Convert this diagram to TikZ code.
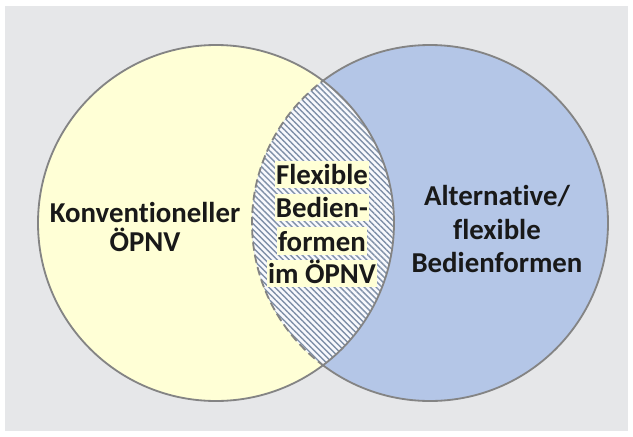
\documentclass[tikz,border=0pt]{standalone}
\usepackage{fontspec}
\setmainfont{Carlito}[RawFeature={-liga;-clig;-calt;-dlig}]
\usetikzlibrary{patterns.meta}
\definecolor{bggray}{HTML}{E6E7E9}
\definecolor{konvyellow}{HTML}{FFFFD6}
\definecolor{flexblue}{HTML}{B4C6E7}
\definecolor{rimgray}{HTML}{848484}
\definecolor{hatchblue}{HTML}{7F90A8}
\tikzset{
  rim/.style={rimgray, line width=1.3pt},
  lbl/.style={align=center, text=black!90, font=\bfseries\fontsize{20.5}{24}\selectfont},
  flexline/.style={fill=konvyellow, inner xsep=1pt, inner ysep=0pt, text height=17pt, text depth=2.5pt,
    text=black!90, font=\bfseries\fontsize{20.5}{24}\selectfont},
}
\begin{document}
\begin{tikzpicture}[x=0.025cm, y=-0.025cm, line join=round, line cap=round]
	\def\rad{178}
	\useasboundingbox (0,0) rectangle (633,436);
	\fill[bggray] (5,6) rectangle (628,431);
	\coordinate (kreisL) at (216,223);
	\coordinate (kreisR) at (430,223);
	% Flaechen
	\fill[konvyellow] (kreisL) circle[radius=\rad];
	\fill[flexblue] (kreisR) circle[radius=\rad];
	% Schnittmenge schraffiert
	\begin{scope}
		\clip (kreisL) circle[radius=\rad];
		\fill[white!90!flexblue] (kreisR) circle[radius=\rad];
		\fill[pattern={Lines[angle=-45,distance=3pt,line width=1pt]}, pattern color=hatchblue] (kreisR) circle[radius=\rad];
		\draw[rim, line cap=butt, dash pattern=on 6pt off 3pt] (kreisR) circle[radius=\rad];
	\end{scope}
	\begin{scope}[even odd rule]
		\clip (0,0) rectangle (633,436) (kreisL) circle[radius=\rad];
		\draw[rim] (kreisR) circle[radius=\rad];
	\end{scope}
	\draw[rim] (kreisL) circle[radius=\rad];
	% Beschriftung
	\node[lbl] (konv) at (145,227) {Konventioneller\\[-3pt]ÖPNV};
	\node[lbl] (alt) at (497,229) {Alternative/\\flexible\\Bedienformen};
	\node[flexline] (f1) at (322,174.5) {Flexible};
	\node[flexline] (f2) at (322,207.5) {Bedien-};
	\node[flexline] (f3) at (322,241) {formen};
	\node[flexline] (f4) at (322,273.5) {im ÖPNV};
\end{tikzpicture}
\end{document}
